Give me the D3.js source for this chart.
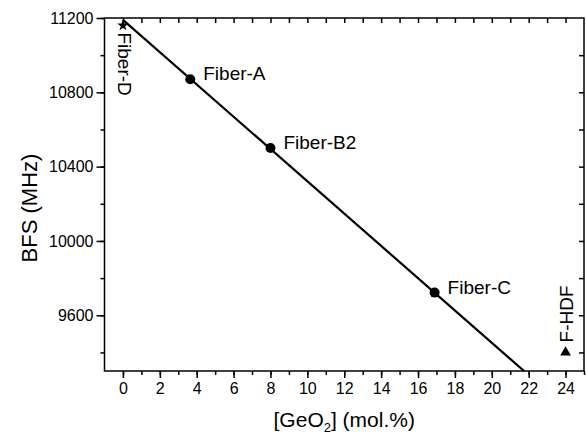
<!DOCTYPE html>
<html>
<head>
<meta charset="utf-8">
<script src="https://cdn.jsdelivr.net/npm/d3@7"></script>
<style>
  body { margin: 0; background: #fff; }
  svg text { font-family: "Liberation Sans", Arial, sans-serif; fill: #000; }
</style>
</head>
<body>
<div id="chart"></div>
<script>
// fibers (GeO2 mol.% vs BFS MHz)
var fiberNames = ["Fiber-A", "Fiber-B2", "Fiber-C"];
var fiberGeo = [3.65, 8.0, 16.9];
var fiberBfs = [10870, 10500, 9722];

var fiberD = {name: "Fiber-D", geo: 0, bfs: 11160};
var fHdf = {name: "F-HDF", geo: 24, bfs: 9400};

// fitted line end points
var fitGeo = [0, 21.75];
var fitBfs = [11190, 9300];

var xTicks = [0, 2, 4, 6, 8, 10, 12, 14, 16, 18, 20, 22, 24];
var yTicks = [9600, 10000, 10400, 10800, 11200];

var width = 586, height = 436;
var pLeft = 104.5, pRight = 584, pTop = 18, pBottom = 371;

var svg = d3.select("#chart").append("svg")
    .attr("width", width)
    .attr("height", height);

var x = d3.scaleLinear().domain([-1, 25]).range([pLeft, pRight]);
var y = d3.scaleLinear().domain([9300, 11200]).range([pBottom, pTop]);

var minorX = d3.range(0, 26, 1);
var minorY = d3.range(9400, 11201, 200);

function styleAxis(g) {
  g.select(".domain").remove();
  g.selectAll("line").attr("stroke", "#000").attr("stroke-width", 1.5);
  g.selectAll("text").style("font-size", "16px");
}

// bottom
svg.append("g").attr("transform", "translate(0," + pBottom + ")")
  .call(d3.axisBottom(x).tickValues(minorX).tickSize(4).tickFormat(""))
  .call(styleAxis);
svg.append("g").attr("transform", "translate(0," + pBottom + ")")
  .call(d3.axisBottom(x).tickValues(xTicks).tickSize(7).tickPadding(5).tickFormat(d3.format("d")))
  .call(styleAxis);

// top (ticks inward)
svg.append("g").attr("transform", "translate(0," + pTop + ")")
  .call(d3.axisBottom(x).tickValues(d3.range(0, 25, 1)).tickSize(5).tickFormat(""))
  .call(styleAxis);

// left
svg.append("g").attr("transform", "translate(" + pLeft + ",0)")
  .call(d3.axisLeft(y).tickValues(minorY).tickSize(4).tickFormat(""))
  .call(styleAxis);
svg.append("g").attr("transform", "translate(" + pLeft + ",0)")
  .call(d3.axisLeft(y).tickValues(yTicks).tickSize(8).tickPadding(3).tickFormat(d3.format("d")))
  .call(styleAxis);

// right (ticks inward)
svg.append("g").attr("transform", "translate(" + pRight + ",0)")
  .call(d3.axisRight(y).tickValues(minorY.filter(d => d < 11200)).tickSize(-5).tickFormat(""))
  .call(styleAxis);

// frame
svg.append("rect")
    .attr("x", pLeft).attr("y", pTop)
    .attr("width", pRight - pLeft).attr("height", pBottom - pTop)
    .attr("fill", "none").attr("stroke", "#000").attr("stroke-width", 1.5);

// fitted line
svg.append("line")
    .attr("x1", x(fitGeo[0])).attr("y1", y(fitBfs[0]))
    .attr("x2", x(fitGeo[1])).attr("y2", y(fitBfs[1]))
    .attr("stroke", "#000").attr("stroke-width", 2.2);

// fiber points
var pts = fiberNames.map((n, i) => ({name: n, geo: fiberGeo[i], bfs: fiberBfs[i]}));
svg.selectAll("circle.pt").data(pts).join("circle")
    .attr("class", "pt")
    .attr("cx", d => x(d.geo)).attr("cy", d => y(d.bfs))
    .attr("r", 5).attr("fill", "#000");

svg.selectAll("text.lbl").data(pts).join("text")
    .attr("class", "lbl")
    .attr("x", d => x(d.geo) + 13)
    .attr("y", d => y(d.bfs) + 1)
    .style("font-size", "19px")
    .text(d => d.name);

// Fiber-D star
svg.append("path")
    .attr("d", d3.symbol(d3.symbolStar, 40)())
    .attr("transform", "translate(" + x(fiberD.geo) + "," + y(fiberD.bfs) + ")")
    .attr("fill", "#000");
svg.append("text")
    .attr("transform", "translate(" + (x(fiberD.geo) - 5) + "," + (y(fiberD.bfs) + 7) + ") rotate(90)")
    .style("font-size", "19px")
    .text(fiberD.name);

// F-HDF triangle
svg.append("path")
    .attr("d", d3.symbol(d3.symbolTriangle, 50)())
    .attr("transform", "translate(" + x(fHdf.geo) + "," + y(fHdf.bfs) + ")")
    .attr("fill", "#000");
svg.append("text")
    .attr("transform", "translate(" + (x(fHdf.geo) + 7) + "," + (y(fHdf.bfs) - 10) + ") rotate(-90)")
    .style("font-size", "19px")
    .text(fHdf.name);

// axis titles
svg.append("text")
    .attr("transform", "translate(37,208) rotate(-90)")
    .attr("text-anchor", "middle")
    .style("font-size", "22px")
    .text("BFS (MHz)");

var xt = svg.append("text")
    .attr("x", (pLeft + pRight) / 2)
    .attr("y", 427)
    .attr("text-anchor", "middle")
    .style("font-size", "21px");
xt.append("tspan").text("[GeO");
xt.append("tspan").attr("dy", 5).style("font-size", "13px").text("2");
xt.append("tspan").attr("dy", -5).text("] (mol.%)");
</script>
</body>
</html>
